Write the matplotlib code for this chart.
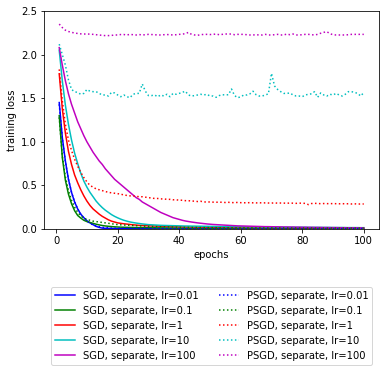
import numpy as np
import matplotlib
matplotlib.use('Agg')
import matplotlib.pyplot as plt

# training loss per epoch
epochs = list(range(1, 101))
lrs = ['0.01', '0.1', '1', '10', '100']
colors = ['b', 'g', 'r', 'c', 'm']

sgd_001 = [1.45, 1.05, 0.78, 0.57, 0.42, 0.31, 0.23, 0.17, 0.13, 0.095,
           0.07, 0.05, 0.03, 0.018, 0.01, 0.008, 0.007, 0.006, 0.005, 0.005,
           0.004, 0.004, 0.004, 0.003, 0.003, 0.003, 0.003, 0.003, 0.003, 0.003,
           0.002, 0.002, 0.002, 0.002, 0.002, 0.002, 0.002, 0.002, 0.002, 0.002,
           0.002, 0.002, 0.002, 0.002, 0.002, 0.002, 0.002, 0.002, 0.002, 0.002,
           0.002, 0.002, 0.002, 0.002, 0.002, 0.002, 0.002, 0.002, 0.002, 0.002,
           0.001, 0.001, 0.001, 0.001, 0.001, 0.001, 0.001, 0.001, 0.001, 0.001,
           0.001, 0.001, 0.001, 0.001, 0.001, 0.001, 0.001, 0.001, 0.001, 0.001,
           0.001, 0.001, 0.001, 0.001, 0.001, 0.001, 0.001, 0.001, 0.001, 0.001,
           0.001, 0.001, 0.001, 0.001, 0.001, 0.001, 0.001, 0.001, 0.001, 0.001]
sgd_01 = [1.3, 0.82, 0.56, 0.4, 0.29, 0.21, 0.155, 0.125, 0.1, 0.085,
          0.075, 0.065, 0.055, 0.047, 0.04, 0.035, 0.031, 0.028, 0.025, 0.023,
          0.021, 0.02, 0.019, 0.018, 0.017, 0.017, 0.016, 0.016, 0.015, 0.015,
          0.014, 0.014, 0.013, 0.013, 0.013, 0.012, 0.012, 0.012, 0.011, 0.011,
          0.011, 0.011, 0.01, 0.01, 0.01, 0.01, 0.01, 0.009, 0.009, 0.009,
          0.009, 0.009, 0.009, 0.008, 0.008, 0.008, 0.008, 0.008, 0.008, 0.008,
          0.007, 0.007, 0.007, 0.007, 0.007, 0.007, 0.007, 0.007, 0.007, 0.007,
          0.006, 0.006, 0.006, 0.006, 0.006, 0.006, 0.006, 0.006, 0.006, 0.006,
          0.006, 0.006, 0.006, 0.005, 0.005, 0.005, 0.005, 0.005, 0.005, 0.005,
          0.005, 0.005, 0.005, 0.005, 0.005, 0.005, 0.005, 0.005, 0.005, 0.005]
sgd_1 = [1.78, 1.38, 1.1, 0.89, 0.74, 0.62, 0.53, 0.45, 0.38, 0.32,
         0.27, 0.23, 0.2, 0.17, 0.145, 0.125, 0.105, 0.09, 0.08, 0.07,
         0.065, 0.06, 0.056, 0.052, 0.048, 0.045, 0.042, 0.04, 0.038, 0.036,
         0.035, 0.034, 0.033, 0.032, 0.031, 0.03, 0.029, 0.028, 0.027, 0.026,
         0.025, 0.025, 0.024, 0.024, 0.023, 0.023, 0.022, 0.022, 0.021, 0.021,
         0.02, 0.02, 0.02, 0.019, 0.019, 0.019, 0.018, 0.018, 0.018, 0.017,
         0.017, 0.017, 0.016, 0.016, 0.016, 0.016, 0.015, 0.015, 0.015, 0.015,
         0.014, 0.014, 0.014, 0.014, 0.013, 0.013, 0.013, 0.013, 0.013, 0.012,
         0.012, 0.012, 0.012, 0.012, 0.012, 0.011, 0.011, 0.011, 0.011, 0.011,
         0.011, 0.011, 0.01, 0.01, 0.01, 0.01, 0.01, 0.01, 0.01, 0.01]
sgd_10 = [2.05, 1.7, 1.42, 1.2, 1.02, 0.87, 0.75, 0.64, 0.55, 0.48,
          0.42, 0.37, 0.32, 0.28, 0.245, 0.215, 0.19, 0.165, 0.145, 0.128,
          0.113, 0.1, 0.09, 0.081, 0.074, 0.068, 0.063, 0.058, 0.054, 0.05,
          0.048, 0.046, 0.044, 0.042, 0.041, 0.04, 0.039, 0.038, 0.037, 0.036,
          0.035, 0.034, 0.034, 0.033, 0.033, 0.032, 0.032, 0.031, 0.031, 0.03,
          0.03, 0.029, 0.029, 0.028, 0.028, 0.028, 0.027, 0.027, 0.026, 0.026,
          0.026, 0.025, 0.025, 0.025, 0.024, 0.024, 0.024, 0.023, 0.023, 0.023,
          0.022, 0.022, 0.022, 0.021, 0.021, 0.021, 0.021, 0.02, 0.02, 0.02,
          0.02, 0.019, 0.019, 0.019, 0.019, 0.018, 0.018, 0.018, 0.018, 0.017,
          0.017, 0.017, 0.017, 0.016, 0.016, 0.016, 0.016, 0.016, 0.015, 0.015]
sgd_100 = [2.08, 1.88, 1.7, 1.55, 1.43, 1.33, 1.23, 1.15, 1.07, 1.0,
           0.94, 0.88, 0.83, 0.78, 0.74, 0.69, 0.65, 0.61, 0.57, 0.54,
           0.51, 0.48, 0.45, 0.42, 0.39, 0.36, 0.34, 0.31, 0.29, 0.27,
           0.25, 0.23, 0.21, 0.19, 0.175, 0.16, 0.145, 0.13, 0.12, 0.11,
           0.1, 0.092, 0.086, 0.08, 0.075, 0.07, 0.066, 0.062, 0.058, 0.055,
           0.052, 0.05, 0.048, 0.046, 0.044, 0.042, 0.04, 0.038, 0.036, 0.035,
           0.034, 0.033, 0.032, 0.031, 0.03, 0.029, 0.028, 0.027, 0.027, 0.026,
           0.025, 0.025, 0.024, 0.023, 0.023, 0.022, 0.022, 0.021, 0.021, 0.02,
           0.02, 0.019, 0.019, 0.018, 0.018, 0.018, 0.017, 0.017, 0.016, 0.016,
           0.016, 0.015, 0.015, 0.015, 0.014, 0.014, 0.014, 0.013, 0.013, 0.012]

psgd_001 = [1.43, 1.04, 0.77, 0.57, 0.42, 0.31, 0.23, 0.17, 0.125, 0.09,
            0.065, 0.047, 0.035, 0.026, 0.02, 0.016, 0.013, 0.011, 0.01, 0.009,
            0.009, 0.008, 0.008, 0.008, 0.007, 0.007, 0.007, 0.007, 0.007, 0.006,
            0.006, 0.006, 0.006, 0.006, 0.006, 0.006, 0.006, 0.005, 0.005, 0.005,
            0.005, 0.005, 0.005, 0.005, 0.005, 0.005, 0.005, 0.005, 0.005, 0.005,
            0.005, 0.005, 0.005, 0.005, 0.005, 0.004, 0.004, 0.004, 0.004, 0.004,
            0.004, 0.004, 0.004, 0.004, 0.004, 0.004, 0.004, 0.004, 0.004, 0.004,
            0.004, 0.004, 0.004, 0.004, 0.004, 0.004, 0.004, 0.004, 0.004, 0.004,
            0.004, 0.004, 0.004, 0.004, 0.004, 0.004, 0.004, 0.004, 0.004, 0.004,
            0.004, 0.004, 0.004, 0.004, 0.004, 0.004, 0.004, 0.004, 0.004, 0.004]
psgd_01 = [1.28, 0.84, 0.6, 0.44, 0.33, 0.25, 0.19, 0.15, 0.125, 0.11,
           0.1, 0.09, 0.085, 0.08, 0.075, 0.07, 0.065, 0.06, 0.055, 0.05,
           0.048, 0.046, 0.044, 0.042, 0.04, 0.038, 0.036, 0.034, 0.032, 0.03,
           0.029, 0.028, 0.027, 0.026, 0.025, 0.024, 0.023, 0.022, 0.021, 0.02,
           0.02, 0.019, 0.019, 0.018, 0.018, 0.018, 0.017, 0.017, 0.017, 0.016,
           0.016, 0.016, 0.015, 0.015, 0.015, 0.015, 0.014, 0.014, 0.014, 0.014,
           0.014, 0.013, 0.013, 0.013, 0.013, 0.013, 0.013, 0.012, 0.012, 0.012,
           0.012, 0.012, 0.012, 0.012, 0.011, 0.011, 0.011, 0.011, 0.011, 0.011,
           0.011, 0.011, 0.011, 0.01, 0.01, 0.01, 0.01, 0.01, 0.01, 0.01,
           0.01, 0.01, 0.01, 0.01, 0.01, 0.01, 0.01, 0.01, 0.01, 0.01]
psgd_1 = [1.83, 1.47, 1.2, 1.02, 0.9, 0.8, 0.72, 0.65, 0.59, 0.54,
          0.5, 0.48, 0.46, 0.45, 0.44, 0.43, 0.42, 0.415, 0.41, 0.405,
          0.4, 0.39, 0.385, 0.38, 0.38, 0.375, 0.37, 0.37, 0.365, 0.36,
          0.355, 0.35, 0.35, 0.345, 0.345, 0.34, 0.34, 0.335, 0.335, 0.33,
          0.33, 0.325, 0.325, 0.32, 0.32, 0.315, 0.318, 0.31, 0.31, 0.31,
          0.308, 0.306, 0.31, 0.305, 0.304, 0.306, 0.303, 0.302, 0.305, 0.302,
          0.301, 0.3, 0.303, 0.3, 0.299, 0.302, 0.298, 0.3, 0.298, 0.297,
          0.3, 0.296, 0.298, 0.297, 0.295, 0.298, 0.296, 0.294, 0.297, 0.295,
          0.294, 0.28, 0.292, 0.294, 0.293, 0.29, 0.292, 0.291, 0.29, 0.292,
          0.29, 0.289, 0.291, 0.288, 0.29, 0.287, 0.289, 0.286, 0.287, 0.287]
psgd_10 = [2.12, 2.0, 1.88, 1.71, 1.6, 1.575, 1.565, 1.545, 1.555, 1.6,
           1.58, 1.575, 1.575, 1.555, 1.537, 1.537, 1.525, 1.567, 1.56, 1.537,
           1.517, 1.537, 1.517, 1.506, 1.545, 1.555, 1.555, 1.663, 1.58, 1.53,
           1.53, 1.537, 1.517, 1.537, 1.525, 1.545, 1.517, 1.555, 1.545, 1.555,
           1.567, 1.58, 1.537, 1.525, 1.53, 1.537, 1.545, 1.537, 1.545, 1.525,
           1.525, 1.51, 1.53, 1.54, 1.537, 1.54, 1.605, 1.53, 1.506, 1.515,
           1.537, 1.537, 1.55, 1.58, 1.54, 1.525, 1.525, 1.537, 1.55, 1.785,
           1.64, 1.6, 1.575, 1.555, 1.555, 1.56, 1.537, 1.525, 1.525, 1.517,
           1.537, 1.545, 1.55, 1.575, 1.51, 1.56, 1.537, 1.525, 1.545, 1.537,
           1.555, 1.537, 1.525, 1.545, 1.575, 1.575, 1.567, 1.555, 1.525, 1.565]
psgd_100 = [2.35, 2.31, 2.28, 2.265, 2.255, 2.248, 2.242, 2.238, 2.236, 2.236,
            2.235, 2.232, 2.228, 2.225, 2.22, 2.218, 2.218, 2.22, 2.225, 2.225,
            2.23, 2.23, 2.225, 2.232, 2.228, 2.225, 2.23, 2.225, 2.228, 2.232,
            2.23, 2.228, 2.225, 2.225, 2.228, 2.23, 2.228, 2.225, 2.228, 2.232,
            2.235, 2.24, 2.255, 2.232, 2.225, 2.222, 2.228, 2.232, 2.232, 2.23,
            2.232, 2.236, 2.228, 2.232, 2.236, 2.236, 2.236, 2.228, 2.232, 2.232,
            2.232, 2.228, 2.225, 2.225, 2.228, 2.225, 2.225, 2.232, 2.225, 2.225,
            2.228, 2.232, 2.225, 2.225, 2.236, 2.228, 2.236, 2.225, 2.225, 2.228,
            2.232, 2.232, 2.228, 2.225, 2.232, 2.245, 2.255, 2.263, 2.24, 2.228,
            2.225, 2.225, 2.225, 2.225, 2.228, 2.232, 2.232, 2.232, 2.232, 2.232]

sgd = [sgd_001, sgd_01, sgd_1, sgd_10, sgd_100]
psgd = [psgd_001, psgd_01, psgd_1, psgd_10, psgd_100]

fig = plt.figure(figsize=(389 / 72, 372 / 72), dpi=72)
ax = fig.add_axes([44 / 389, 1 - 229 / 372, 335 / 389, 218 / 372])

for lr, c, y in zip(lrs, colors, sgd):
    ax.plot(epochs, y, color=c, linestyle='-', label='SGD, separate, lr=' + lr)
for lr, c, y in zip(lrs, colors, psgd):
    ax.plot(epochs, y, color=c, linestyle=':', label='PSGD, separate, lr=' + lr)

ax.set_ylim(0, 2.5)
ax.set_xlabel('epochs')
ax.set_ylabel('training loss')

fig.legend(ncol=2, loc='upper center', bbox_to_anchor=(0.544, 0.2425))

fig.savefig('out.png', dpi=72)
